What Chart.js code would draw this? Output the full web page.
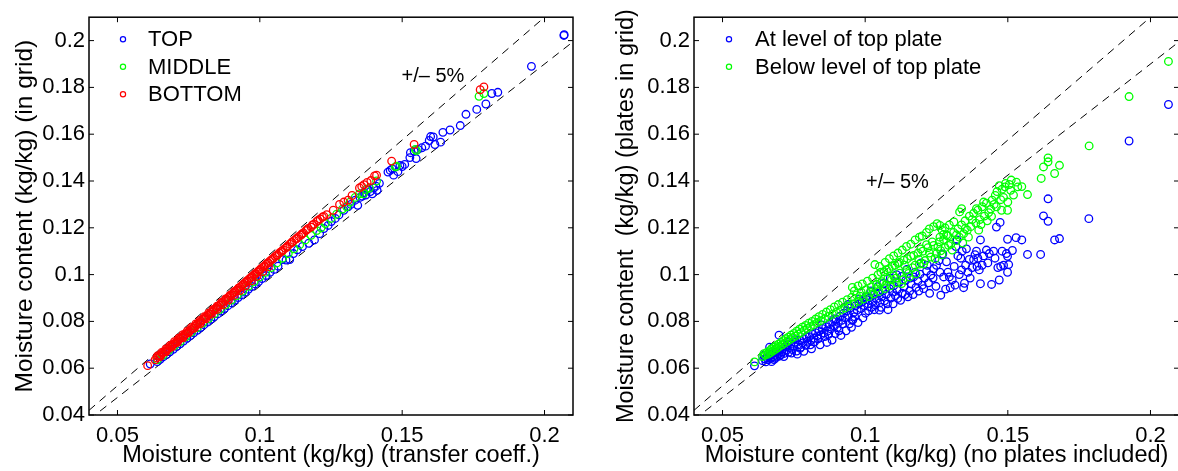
<!DOCTYPE html>
<html>
<head>
<meta charset="utf-8">
<script src="https://cdn.jsdelivr.net/npm/chart.js@4.4.1/dist/chart.umd.min.js"></script>
<style>
html, body { margin: 0; padding: 0; background: #fff; overflow: hidden; width: 1178px; height: 471px; }
#c1 { position: absolute; left: 0; top: 0; }
#c2 { position: absolute; left: 590px; top: 0; }
</style>
</head>
<body>
<canvas id="c1" width="590" height="471"></canvas>
<canvas id="c2" width="606" height="471"></canvas>
<script>
// axis setup (both panels)
var axisMin = 0.04, axisMax = 0.21;
var xTicks = [0.05, 0.1, 0.15, 0.2];
var xTickLabels = ['0.05', '0.1', '0.15', '0.2'];
var yTicks = [0.04, 0.06, 0.08, 0.1, 0.12, 0.14, 0.16, 0.18, 0.2];
var yTickLabels = ['0.04', '0.06', '0.08', '0.1', '0.12', '0.14', '0.16', '0.18', '0.2'];
var bandX = [0.04, 0.21];      // ends of the +/- 5% lines
var bandFactors = [1.05, 0.95];

// left panel: [transfer coeff., in grid]
var topPts = [[0.0615,0.0618],[0.0640,0.0628],[0.0650,0.0638],[0.0660,0.0648],[0.0672,0.0658],[0.0684,0.0670],[0.0696,0.0681],[0.0708,0.0693],[0.0720,0.0704],[0.0732,0.0716],[0.0744,0.0728],[0.0756,0.0739],[0.0768,0.0751],[0.0780,0.0762],[0.0792,0.0774],[0.0804,0.0786],[0.0816,0.0797],[0.0828,0.0809],[0.0840,0.0820],[0.0852,0.0832],[0.0864,0.0844],[0.0876,0.0855],[0.0888,0.0867],[0.0900,0.0879],[0.0912,0.0890],[0.0924,0.0902],[0.0936,0.0913],[0.0948,0.0925],[0.0960,0.0937],[0.0972,0.0949],[0.0984,0.0960],[0.0996,0.0970],[0.1008,0.0983],[0.1022,0.0996],[0.1036,0.1010],[0.1050,0.1022],[0.1064,0.1036],[0.1079,0.1064],[0.1092,0.1062],[0.1105,0.1064],[0.1118,0.1090],[0.1132,0.1106],[0.1150,0.1120],[0.1172,0.1134],[0.1192,0.1148],[0.1210,0.1175],[0.1225,0.1197],[0.1240,0.1210],[0.1251,0.1227],[0.1265,0.1240],[0.1278,0.1255],[0.1295,0.1275],[0.1310,0.1290],[0.1320,0.1300],[0.1335,0.1318],[0.1344,0.1296],[0.1352,0.1330],[0.1360,0.1335],[0.1365,0.1350],[0.1372,0.1340],[0.1380,0.1362],[0.1388,0.1355],[0.1395,0.1345],[0.1400,0.1370],[0.1408,0.1378],[0.1412,0.1360],[0.1420,0.1390],[0.1450,0.1438],[0.1458,0.1445],[0.1465,0.1452],[0.1470,0.1425],[0.1478,0.1460],[0.1485,0.1440],[0.1492,0.1466],[0.1500,0.1462],[0.1509,0.1471],[0.1527,0.1500],[0.1529,0.1521],[0.1542,0.1528],[0.1549,0.1496],[0.1556,0.1535],[0.1569,0.1542],[0.1582,0.1549],[0.1595,0.1573],[0.1609,0.1588],[0.1615,0.1556],[0.1600,0.1590],[0.1635,0.1566],[0.1643,0.1608],[0.1668,0.1618],[0.1704,0.1637],[0.1724,0.1685],[0.1762,0.1706],[0.1794,0.1729],[0.1815,0.1774],[0.1836,0.1779],[0.1954,0.1890],[0.2068,0.2022],[0.2069,0.2025]];
var middlePts = [[0.0640,0.0636],[0.0660,0.0655],[0.0680,0.0676],[0.0700,0.0695],[0.0720,0.0714],[0.0740,0.0734],[0.0760,0.0754],[0.0780,0.0773],[0.0800,0.0793],[0.0820,0.0812],[0.0840,0.0832],[0.0860,0.0852],[0.0880,0.0871],[0.0900,0.0891],[0.0920,0.0910],[0.0940,0.0930],[0.0960,0.0950],[0.0980,0.0970],[0.1000,0.0990],[0.1020,0.1010],[0.1040,0.1030],[0.1060,0.1050],[0.1080,0.1070],[0.1100,0.1090],[0.1120,0.1110],[0.1140,0.1128],[0.1160,0.1148],[0.1180,0.1168],[0.1200,0.1188],[0.1215,0.1200],[0.1230,0.1218],[0.1250,0.1240],[0.1270,0.1258],[0.1290,0.1280],[0.1305,0.1290],[0.1317,0.1310],[0.1335,0.1330],[0.1350,0.1345],[0.1364,0.1345],[0.1373,0.1363],[0.1385,0.1370],[0.1410,0.1400],[0.1476,0.1460],[0.1480,0.1463],[0.1546,0.1535],[0.1550,0.1530],[0.1770,0.1762],[0.1787,0.1774]];
var bottomPts = [[0.0606,0.0611],[0.0632,0.0636],[0.0638,0.0644],[0.0645,0.0651],[0.0651,0.0655],[0.0657,0.0663],[0.0662,0.0668],[0.0668,0.0672],[0.0674,0.0681],[0.0679,0.0684],[0.0685,0.0691],[0.0691,0.0697],[0.0696,0.0703],[0.0702,0.0707],[0.0708,0.0714],[0.0713,0.0721],[0.0719,0.0725],[0.0725,0.0731],[0.0731,0.0737],[0.0736,0.0744],[0.0742,0.0748],[0.0748,0.0754],[0.0754,0.0761],[0.0759,0.0766],[0.0765,0.0771],[0.0771,0.0779],[0.0777,0.0784],[0.0782,0.0790],[0.0788,0.0796],[0.0794,0.0801],[0.0800,0.0809],[0.0806,0.0814],[0.0812,0.0821],[0.0818,0.0827],[0.0823,0.0832],[0.0829,0.0839],[0.0835,0.0845],[0.0841,0.0852],[0.0847,0.0857],[0.0853,0.0864],[0.0859,0.0870],[0.0865,0.0877],[0.0871,0.0883],[0.0877,0.0889],[0.0883,0.0896],[0.0889,0.0902],[0.0895,0.0909],[0.0901,0.0915],[0.0907,0.0921],[0.0913,0.0928],[0.0919,0.0934],[0.0925,0.0941],[0.0931,0.0947],[0.0937,0.0953],[0.0943,0.0960],[0.0949,0.0966],[0.0955,0.0973],[0.0961,0.0979],[0.0967,0.0986],[0.0973,0.0992],[0.0979,0.0998],[0.0985,0.1005],[0.0991,0.1011],[0.0997,0.1017],[0.1003,0.1024],[0.1010,0.1031],[0.1016,0.1037],[0.1022,0.1044],[0.1028,0.1050],[0.1035,0.1057],[0.1041,0.1064],[0.1048,0.1070],[0.1054,0.1078],[0.1061,0.1084],[0.1068,0.1092],[0.1075,0.1098],[0.1082,0.1106],[0.1090,0.1113],[0.1097,0.1121],[0.1105,0.1130],[0.1112,0.1138],[0.1120,0.1146],[0.1128,0.1153],[0.1137,0.1163],[0.1145,0.1169],[0.1153,0.1178],[0.1162,0.1188],[0.1170,0.1197],[0.1180,0.1203],[0.1190,0.1215],[0.1200,0.1227],[0.1212,0.1238],[0.1225,0.1249],[0.1235,0.1256],[0.1258,0.1275],[0.1280,0.1300],[0.1295,0.1310],[0.1310,0.1318],[0.1324,0.1338],[0.1350,0.1370],[0.1358,0.1377],[0.1366,0.1384],[0.1377,0.1394],[0.1390,0.1402],[0.1403,0.1422],[0.1410,0.1425],[0.1463,0.1485],[0.1542,0.1556],[0.1774,0.1790],[0.1787,0.1802],
  [0.0650,0.0650],[0.0670,0.0670],[0.0690,0.0690],[0.0710,0.0710],[0.0730,0.0730],[0.0750,0.0751],[0.0770,0.0771],[0.0790,0.0790],[0.0810,0.0811],[0.0830,0.0831],[0.0850,0.0851],[0.0870,0.0871],[0.0890,0.0891],[0.0910,0.0912],[0.0930,0.0932],[0.0950,0.0952],[0.0970,0.0973],[0.0990,0.0993],[0.1010,0.1013],[0.1030,0.1034],
  [0.0640,0.0652],[0.0655,0.0667],[0.0670,0.0682],[0.0685,0.0697],[0.0700,0.0713],[0.0715,0.0728],[0.0730,0.0743],[0.0745,0.0758],[0.0760,0.0774],[0.0775,0.0789],[0.0790,0.0804],[0.0805,0.0820],[0.0820,0.0835],[0.0835,0.0850],[0.0850,0.0865],[0.0865,0.0881],[0.0880,0.0896],[0.0895,0.0911],[0.0910,0.0927],[0.0925,0.0942],[0.0940,0.0957],[0.0955,0.0972],[0.0970,0.0988],[0.0985,0.1003],[0.1000,0.1019],[0.1015,0.1034],[0.1030,0.1050],[0.1045,0.1066],[0.1060,0.1081],[0.1078,0.1100],[0.1095,0.1118],[0.1113,0.1137],[0.1130,0.1155],[0.1148,0.1174],[0.1165,0.1192],[0.1185,0.1212],[0.1205,0.1232],[0.1220,0.1246]];

// right panel: [no plates included, plates in grid]
var atTopPts = [[0.0612,0.0610],[0.0640,0.0632],[0.0645,0.0655],[0.0648,0.0640],[0.0652,0.0627],[0.0656,0.0645],[0.0660,0.0636],[0.0664,0.0652],[0.0668,0.0641],[0.0672,0.0660],[0.0676,0.0648],[0.0680,0.0637],[0.0684,0.0655],[0.0688,0.0668],[0.0692,0.0650],[0.0696,0.0662],[0.0698,0.0741],[0.0700,0.0675],[0.0704,0.0657],[0.0708,0.0670],[0.0712,0.0684],[0.0716,0.0663],[0.0720,0.0692],[0.0724,0.0676],[0.0728,0.0700],[0.0732,0.0668],[0.0736,0.0688],[0.0740,0.0705],[0.0745,0.0680],[0.0750,0.0695],[0.0755,0.0712],[0.0760,0.0673],[0.0765,0.0700],[0.0770,0.0720],[0.0775,0.0690],[0.0780,0.0708],[0.0786,0.0725],[0.0792,0.0698],[0.0798,0.0715],[0.0804,0.0735],[0.0810,0.0719],[0.0815,0.0745],[0.0820,0.0728],[0.0826,0.0752],[0.0832,0.0738],[0.0838,0.0760],[0.0845,0.0742],[0.0850,0.0770],[0.0856,0.0750],[0.0862,0.0778],[0.0868,0.0758],[0.0875,0.0790],[0.0880,0.0768],[0.0886,0.0800],[0.0892,0.0780],[0.0898,0.0810],[0.0902,0.0773],[0.0906,0.0795],[0.0912,0.0822],[0.0918,0.0805],[0.0925,0.0835],[0.0930,0.0815],[0.0936,0.0845],[0.0942,0.0825],[0.0948,0.0858],[0.0955,0.0804],[0.0957,0.0808],[0.0960,0.0838],[0.0966,0.0866],[0.0972,0.0848],[0.0978,0.0875],[0.0985,0.0855],[0.0990,0.0884],[0.0996,0.0868],[0.1001,0.0835],[0.1005,0.0893],[0.1010,0.0875],[0.1016,0.0902],[0.1022,0.0860],[0.1025,0.0885],[0.1030,0.0912],[0.1036,0.0870],[0.1040,0.0895],[0.1046,0.0920],[0.1050,0.0848],[0.1052,0.0880],[0.1058,0.0905],[0.1062,0.0930],[0.1068,0.0888],[0.1074,0.0915],[0.1080,0.0850],[0.1085,0.0940],[0.1090,0.0900],[0.1096,0.0925],[0.1100,0.0952],[0.1106,0.0910],[0.1112,0.0935],[0.1118,0.0965],[0.1124,0.0890],[0.1130,0.0920],[0.1136,0.0948],[0.1142,0.0975],[0.1150,0.0905],[0.1156,0.0930],[0.1162,0.0960],[0.1170,0.0990],[0.1178,0.0945],[0.1185,0.0972],[0.1192,0.1002],[0.1200,0.0955],[0.1208,0.0985],[0.1215,0.1015],[0.1222,0.0965],[0.1230,0.0998],[0.1240,0.1025],[0.1250,0.1040],[0.1265,0.0912],[0.1269,0.1085],[0.1272,0.1088],[0.1275,0.0990],[0.1282,0.0938],[0.1290,0.1010],[0.1298,0.0944],[0.1305,0.0978],[0.1312,0.1035],[0.1318,0.1120],[0.1322,0.1148],[0.1330,0.1000],[0.1335,0.1070],[0.1340,0.1100],[0.1345,0.0944],[0.1348,0.0963],[0.1352,0.1040],[0.1360,0.1010],[0.1365,0.1065],[0.1375,0.1030],[0.1380,0.1064],[0.1385,0.1085],[0.1390,0.1100],[0.1395,0.1070],[0.1400,0.1020],[0.1404,0.0961],[0.1404,0.1148],[0.1410,0.1040],[0.1425,0.1105],[0.1435,0.1090],[0.1443,0.0958],[0.1450,0.1100],[0.1460,0.1203],[0.1465,0.1030],[0.1470,0.0977],[0.1473,0.1223],[0.1475,0.1035],[0.1480,0.1100],[0.1499,0.1010],[0.1499,0.1078],[0.1499,0.1151],[0.1503,0.1043],[0.1516,0.1103],[0.1529,0.1158],[0.1549,0.1148],[0.1569,0.1086],[0.1615,0.1086],[0.1625,0.1251],[0.1641,0.1228],[0.1641,0.1324],[0.1664,0.1148],[0.1681,0.1154],[0.1784,0.1239],[0.1925,0.1571],[0.2063,0.1727],
  [0.0665,0.0690],[0.0672,0.0628],[0.0685,0.0642],[0.0700,0.0652],[0.0715,0.0650],[0.0730,0.0710],[0.0742,0.0665],[0.0752,0.0722],[0.0762,0.0660],[0.0772,0.0685],[0.0785,0.0672],[0.0795,0.0735],[0.0808,0.0700],[0.0812,0.0683],[0.0822,0.0712],[0.0835,0.0725],[0.0842,0.0700],[0.0848,0.0785],[0.0858,0.0735],[0.0866,0.0710],[0.0872,0.0745],[0.0884,0.0720],[0.0890,0.0810],[0.0895,0.0748],[0.0908,0.0760],[0.0915,0.0740],[0.0922,0.0790],[0.0933,0.0760],[0.0940,0.0872],[0.0945,0.0790],[0.0952,0.0775],[0.0963,0.0820],[0.0975,0.0795],[0.0980,0.0895],[0.0992,0.0815],[0.1002,0.0905],[0.1012,0.0845],[0.1020,0.0930],[0.1032,0.0850],[0.1044,0.0948],[0.1056,0.0860],[0.1064,0.0962],[0.1078,0.0875],[0.1088,0.0985],[0.1098,0.0875],[0.1110,0.1000],[0.1114,0.0898],[0.1128,0.0992],[0.1140,0.0915],[0.1146,0.1022],[0.1158,0.0985],[0.1168,0.0915],[0.1175,0.1010],[0.1188,0.0930],[0.1196,0.1050],[0.1205,0.0940],[0.1218,0.1040],[0.1226,0.0920],[0.1238,0.0985],[0.1248,0.0950],[0.1258,0.1060],[0.1262,0.1010],[0.1285,0.1055],[0.1295,0.0990],[0.1315,0.0955],[0.1325,0.1080],[0.1338,0.1020],[0.1355,0.1110],[0.1368,0.0985],[0.1392,0.1035],[0.1415,0.1080],[0.1430,0.1050],[0.1455,0.1070],[0.1485,0.1040],[0.1495,0.1090]];
var belowTopPts = [[0.0612,0.0627],[0.0640,0.0650],[0.0645,0.0662],[0.0650,0.0656],[0.0655,0.0667],[0.0660,0.0660],[0.0665,0.0675],[0.0668,0.0667],[0.0672,0.0682],[0.0676,0.0673],[0.0680,0.0690],[0.0684,0.0680],[0.0688,0.0696],[0.0692,0.0686],[0.0696,0.0703],[0.0700,0.0693],[0.0705,0.0710],[0.0709,0.0700],[0.0713,0.0718],[0.0718,0.0707],[0.0722,0.0726],[0.0727,0.0715],[0.0731,0.0733],[0.0736,0.0722],[0.0740,0.0741],[0.0745,0.0730],[0.0750,0.0749],[0.0755,0.0737],[0.0760,0.0758],[0.0765,0.0745],[0.0770,0.0767],[0.0775,0.0752],[0.0780,0.0775],[0.0786,0.0762],[0.0791,0.0783],[0.0797,0.0770],[0.0802,0.0792],[0.0808,0.0778],[0.0814,0.0800],[0.0820,0.0786],[0.0826,0.0810],[0.0832,0.0795],[0.0838,0.0820],[0.0845,0.0803],[0.0851,0.0830],[0.0858,0.0812],[0.0864,0.0840],[0.0871,0.0821],[0.0878,0.0850],[0.0885,0.0830],[0.0892,0.0862],[0.0899,0.0838],[0.0906,0.0872],[0.0914,0.0848],[0.0921,0.0882],[0.0929,0.0857],[0.0937,0.0893],[0.0945,0.0866],[0.0953,0.0903],[0.0961,0.0876],[0.0969,0.0913],[0.0977,0.0886],[0.0986,0.0925],[0.0994,0.0896],[0.1003,0.0936],[0.1012,0.0906],[0.1021,0.0947],[0.1030,0.0917],[0.1034,0.1043],[0.1040,0.0958],[0.1049,0.0928],[0.1055,0.1010],[0.1059,0.0970],[0.1069,0.0940],[0.1075,0.1020],[0.1079,0.0982],[0.1089,0.0952],[0.1095,0.1035],[0.1100,0.0994],[0.1110,0.0965],[0.1115,0.1048],[0.1121,0.1006],[0.1132,0.0978],[0.1135,0.1062],[0.1143,0.1018],[0.1155,0.0990],[0.1160,0.1078],[0.1166,0.1030],[0.1178,0.1003],[0.1185,0.1092],[0.1190,0.1045],[0.1202,0.1100],[0.1210,0.1060],[0.1220,0.1115],[0.1230,0.1075],[0.1240,0.1125],[0.1250,0.1090],[0.1260,0.1140],[0.1265,0.1102],[0.1275,0.1150],[0.1280,0.1115],[0.1290,0.1165],[0.1300,0.1130],[0.1310,0.1180],[0.1318,0.1145],[0.1325,0.1195],[0.1330,0.1160],[0.1338,0.1212],[0.1345,0.1175],[0.1350,0.1230],[0.1358,0.1190],[0.1365,0.1250],[0.1370,0.1205],[0.1380,0.1262],[0.1388,0.1220],[0.1395,0.1275],[0.1402,0.1235],[0.1410,0.1290],[0.1418,0.1250],[0.1425,0.1305],[0.1433,0.1265],[0.1443,0.1249],[0.1445,0.1318],[0.1456,0.1338],[0.1460,0.1290],[0.1470,0.1380],[0.1475,0.1320],[0.1480,0.1365],[0.1490,0.1375],[0.1499,0.1275],[0.1500,0.1310],[0.1505,0.1385],[0.1512,0.1404],[0.1520,0.1340],[0.1530,0.1395],[0.1549,0.1376],[0.1569,0.1342],[0.1617,0.1411],[0.1625,0.1460],[0.1641,0.1499],[0.1641,0.1482],[0.1664,0.1432],[0.1681,0.1467],[0.1785,0.1550],[0.1925,0.1761],[0.2063,0.1911],
  [0.0955,0.0945],[0.0962,0.0930],[0.0975,0.0952],[0.0982,0.0908],[0.0990,0.0960],[0.1008,0.0972],[0.1018,0.0925],[0.1026,0.0985],[0.1038,0.0940],[0.1045,0.1000],[0.1052,0.0962],[0.1066,0.1012],[0.1072,0.0955],[0.1084,0.1025],[0.1092,0.0978],[0.1104,0.1040],[0.1108,0.0985],[0.1120,0.1052],[0.1128,0.0962],[0.1138,0.1040],[0.1148,0.1068],[0.1152,0.1005],[0.1170,0.1082],[0.1175,0.1040],[0.1188,0.1065],[0.1195,0.1110],[0.1205,0.1045],[0.1215,0.1128],[0.1225,0.1092],[0.1235,0.1140],[0.1245,0.1068],[0.1255,0.1118],[0.1262,0.1160],[0.1270,0.1085],[0.1285,0.1169],[0.1292,0.1125],[0.1305,0.1105],[0.1311,0.1225],[0.1320,0.1170],[0.1331,0.1268],[0.1338,0.1282],[0.1342,0.1135],[0.1351,0.1197],[0.1362,0.1160],[0.1375,0.1235],[0.1390,0.1282],[0.1398,0.1190],[0.1406,0.1214],[0.1415,0.1310],[0.1428,0.1230],[0.1440,0.1280],[0.1452,0.1300],[0.1462,0.1355],[0.1478,0.1275],[0.1485,0.1330],[0.1492,0.1390],[0.1510,0.1360],[0.1535,0.1375],
  [0.1050,0.1035],[0.1070,0.1052],[0.1085,0.1068],[0.1100,0.1080],[0.1115,0.1092],[0.1130,0.1105],[0.1145,0.1120],[0.1160,0.1130],[0.1175,0.1148],[0.1190,0.1160],[0.1200,0.1165],[0.1215,0.1180],[0.1225,0.1195],[0.1240,0.1205],[0.1252,0.1218],[0.1262,0.1210],[0.1270,0.1190],[0.1280,0.1200],[0.1295,0.1212],[0.1275,0.1172]];

Chart.defaults.font.family = '"Liberation Sans", Arial, Helvetica, sans-serif';
Chart.defaults.color = '#000';

function toXY(pts) {
  return pts.map(function (p) { return { x: p[0], y: p[1] }; });
}

function bandLine(f) {
  return {
    type: 'line',
    data: bandX.map(function (v) { return { x: v, y: v * f }; }),
    borderColor: '#000',
    borderWidth: 1,
    borderDash: [8, 6],
    pointRadius: 0,
    fill: false,
    order: 10
  };
}

function marks(label, pts, color, order) {
  return {
    label: label,
    data: toXY(pts),
    borderColor: color,
    backgroundColor: 'rgba(0,0,0,0)',
    pointRadius: 3.8,
    pointBorderWidth: 1.3,
    order: order,
    inLegend: true
  };
}

// box with inward ticks, +/- 5% note and the legend inside the axes
var boxPlugin = {
  id: 'box',
  afterDatasetsDraw: function (chart, args, opts) {
    var ctx = chart.ctx, a = chart.chartArea;
    var xs = chart.scales.x, ys = chart.scales.y;
    ctx.save();
    ctx.strokeStyle = '#000';
    ctx.lineWidth = 1;
    ctx.beginPath();
    xTicks.forEach(function (v) {
      var px = xs.getPixelForValue(v);
      ctx.moveTo(px, a.bottom); ctx.lineTo(px, a.bottom - 5);
      ctx.moveTo(px, a.top); ctx.lineTo(px, a.top + 5);
    });
    yTicks.forEach(function (v) {
      var py = ys.getPixelForValue(v);
      ctx.moveTo(a.left, py); ctx.lineTo(a.left + 5, py);
      ctx.moveTo(a.right, py); ctx.lineTo(a.right - 5, py);
    });
    ctx.stroke();
    ctx.lineWidth = 1.5;
    ctx.strokeRect(a.left, a.top, a.right - a.left, a.bottom - a.top);

    ctx.fillStyle = '#000';
    ctx.font = '20px "Liberation Sans", Arial, sans-serif';
    ctx.textAlign = 'center';
    ctx.textBaseline = 'middle';
    ctx.fillText('+/\u2013 5%', xs.getPixelForValue(opts.noteX), ys.getPixelForValue(opts.noteY));

    ctx.font = '22px "Liberation Sans", Arial, sans-serif';
    ctx.textAlign = 'left';
    var row = 0;
    chart.data.datasets.forEach(function (ds) {
      if (!ds.inLegend) return;
      var yy = a.top + opts.legendTop + row * opts.legendStep;
      ctx.beginPath();
      ctx.strokeStyle = ds.borderColor;
      ctx.lineWidth = 1.2;
      ctx.arc(a.left + opts.markerX, yy, 2.6, 0, Math.PI * 2);
      ctx.stroke();
      ctx.fillStyle = '#000';
      ctx.fillText(ds.label, a.left + opts.textX, yy + 1);
      row++;
    });
    ctx.restore();
  }
};

function makeChart(id, datasets, xTitle, yTitle, yAxisWidth, yTitlePad, yTitleSize, note) {
  return new Chart(document.getElementById(id).getContext('2d'), {
    type: 'scatter',
    data: { datasets: datasets },
    options: {
      responsive: false,
      animation: false,
      layout: { padding: { left: 0, top: 14, right: 17, bottom: 0 } },
      plugins: {
        legend: { display: false },
        tooltip: { enabled: false },
        box: note
      },
      scales: {
        x: {
          type: 'linear', min: axisMin, max: axisMax,
          afterBuildTicks: function (s) { s.ticks = xTicks.map(function (v) { return { value: v }; }); },
          afterFit: function (s) { s.height = 56; },
          grid: { display: false, drawTicks: false },
          border: { display: false },
          ticks: {
            autoSkip: false, maxRotation: 0, padding: 8,
            font: { size: 22 },
            callback: function (v, i) { return xTickLabels[i]; }
          },
          title: { display: true, text: xTitle, font: { size: 23.5 }, padding: { top: 0, bottom: 1 } }
        },
        y: {
          type: 'linear', min: axisMin, max: axisMax,
          afterBuildTicks: function (s) { s.ticks = yTicks.map(function (v) { return { value: v }; }); },
          afterFit: function (s) { s.width = yAxisWidth; },
          grid: { display: false, drawTicks: false },
          border: { display: false },
          ticks: {
            autoSkip: false, padding: 4,
            font: { size: 22 },
            callback: function (v, i) { return yTickLabels[i]; }
          },
          title: { display: true, text: yTitle, font: { size: yTitleSize }, padding: { top: yTitlePad, bottom: 0 } }
        }
      }
    },
    plugins: [boxPlugin]
  });
}

makeChart('c1', [
  bandLine(bandFactors[0]),
  bandLine(bandFactors[1]),
  marks('TOP', topPts, '#0000ff', 3),
  marks('MIDDLE', middlePts, '#00ff00', 2),
  marks('BOTTOM', bottomPts, '#ff0000', 1)
], 'Moisture content (kg/kg) (transfer coeff.)', 'Moisture content (kg/kg) (in grid)', 89, 11, 24.5,
  { noteX: 0.1608, noteY: 0.1846, legendTop: 22, legendStep: 27.5, markerX: 34, textX: 59 });

makeChart('c2', [
  bandLine(bandFactors[0]),
  bandLine(bandFactors[1]),
  marks('At level of top plate', atTopPts, '#0000ff', 2),
  marks('Below level of top plate', belowTopPts, '#00ff00', 1)
], 'Moisture content (kg/kg) (no plates included)', 'Moisture content  (kg/kg) (plates in grid)', 104, 22, 23.5,
  { noteX: 0.1113, noteY: 0.1392, legendTop: 22, legendStep: 27.5, markerX: 35, textX: 61 });
</script>
</body>
</html>
